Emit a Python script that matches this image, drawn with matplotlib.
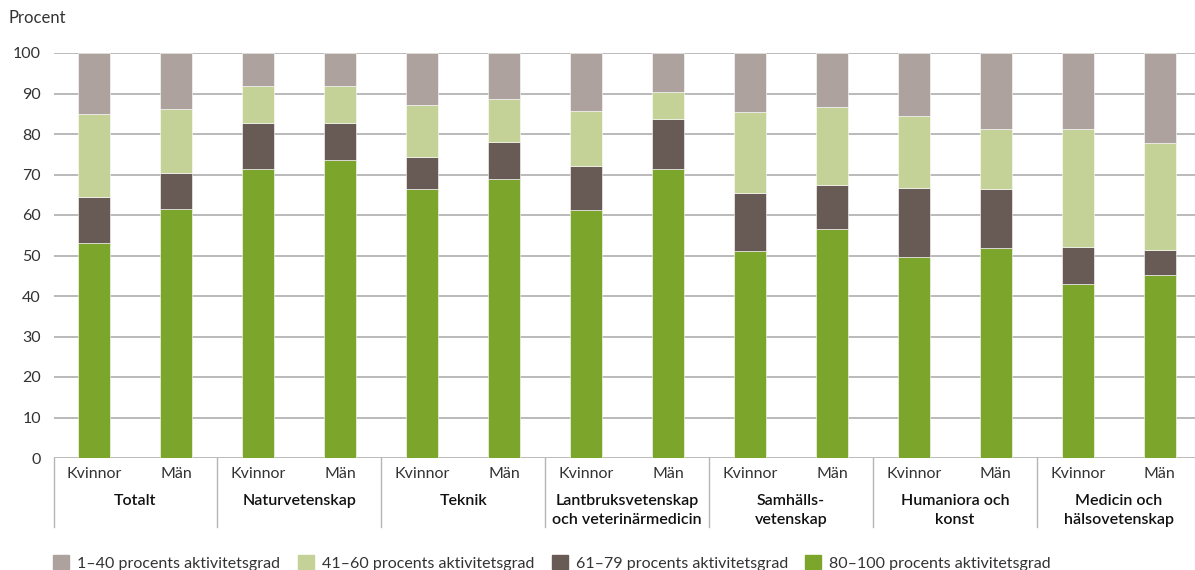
"""Aktivitetsgrad per forskningsområde och kön, staplad stapel."""
import matplotlib

matplotlib.use("Agg")
import matplotlib.pyplot as plt  # noqa: E402
import matplotlib.patches as mpatches  # noqa: E402
import matplotlib.transforms as mtransforms  # noqa: E402
import numpy as np  # noqa: E402

plt.rcParams["font.family"] = ["Lato", "DejaVu Sans"]

groups = ["Totalt", "Naturvetenskap", "Teknik",
          "Lantbruksvetenskap\noch veterinärmedicin", "Samhälls-\nvetenskap",
          "Humaniora och\nkonst", "Medicin och\nhälsovetenskap"]
sexes = ["Kvinnor", "Män"]

# share per bar, order: Totalt K, Totalt M, Natur K, Natur M, ...
v80_100 = [53.1, 61.6, 71.4, 73.5, 66.3, 68.8, 61.2, 71.4, 51.0, 56.5, 49.7, 51.8, 43.0, 45.1]
v61_79 = [11.3, 8.8, 11.3, 9.2, 7.9, 9.3, 11.0, 12.2, 14.4, 11.0, 17.0, 14.5, 9.2, 6.3]
v41_60 = [20.5, 15.8, 9.1, 9.1, 12.9, 10.6, 13.6, 6.8, 20.0, 19.2, 17.8, 14.9, 29.0, 26.4]
v1_40 = [15.1, 13.8, 8.2, 8.2, 12.9, 11.3, 14.2, 9.6, 14.6, 13.3, 15.5, 18.8, 18.8, 22.2]

series = [
    ("80–100 procents aktivitetsgrad", v80_100, "#7ba52b"),
    ("61–79 procents aktivitetsgrad", v61_79, "#685a54"),
    ("41–60 procents aktivitetsgrad", v41_60, "#c4d197"),
    ("1–40 procents aktivitetsgrad", v1_40, "#ada29d"),
]

TXT = "#333333"
GRID = "#b4b4b4"

fig = plt.figure(figsize=(11.95, 5.70), dpi=100)
ax = fig.add_axes([53.5 / 1195, 112 / 570, 1141.5 / 1195, 405 / 570])

x = np.arange(len(v80_100))
bottom = np.zeros(len(x))
handles = {}
for label, vals, col in series:
    vals = np.array(vals)
    ax.bar(x, vals, 0.39, bottom=bottom, color=col, edgecolor="white",
           linewidth=0.4, zorder=3)
    bottom += vals
    handles[label] = mpatches.Patch(color=col, label=label)

ax.set_xlim(-0.5, 13.43)
ax.set_ylim(0, 100)
ax.set_yticks(np.arange(0, 101, 10))
ax.set_xticks([])
ax.yaxis.grid(True, color=GRID, linewidth=1.3, zorder=0)
ax.tick_params(axis="y", length=0, pad=9, labelsize=11.5, labelcolor=TXT)
for s in ax.spines.values():
    s.set_visible(False)

# category axis below the bars
trans = mtransforms.blended_transform_factory(ax.transData, ax.transAxes)
for i in x:
    ax.text(i, -0.04, sexes[i % 2], transform=trans, ha="center", va="center",
            fontsize=11.5, color=TXT)
for g, name in enumerate(groups):
    ax.text(2 * g + 0.5, -0.09, name, transform=trans, ha="center", va="top",
            fontsize=11.5, color="#111111", fontweight="semibold", linespacing=1.45)
for xs in np.arange(-0.5, 12, 2):
    ax.plot([xs, xs], [0, -0.17], transform=trans, color=GRID, linewidth=1,
            clip_on=False)

fig.text(8 / 1195, 1 - 18 / 570, "Procent", fontsize=12, color=TXT, va="center")

order = ["1–40 procents aktivitetsgrad", "41–60 procents aktivitetsgrad",
         "61–79 procents aktivitetsgrad", "80–100 procents aktivitetsgrad"]
leg = fig.legend([handles[k] for k in order], order, ncol=4, loc="center left",
                 bbox_to_anchor=(0.0325, 1 - 563 / 570), frameon=False,
                 fontsize=11.5, handlelength=1.0, handleheight=1.0,
                 handletextpad=0.5, columnspacing=1.1)
for t in leg.get_texts():
    t.set_color(TXT)

fig.savefig("out.png", dpi=100)
plt.close(fig)
